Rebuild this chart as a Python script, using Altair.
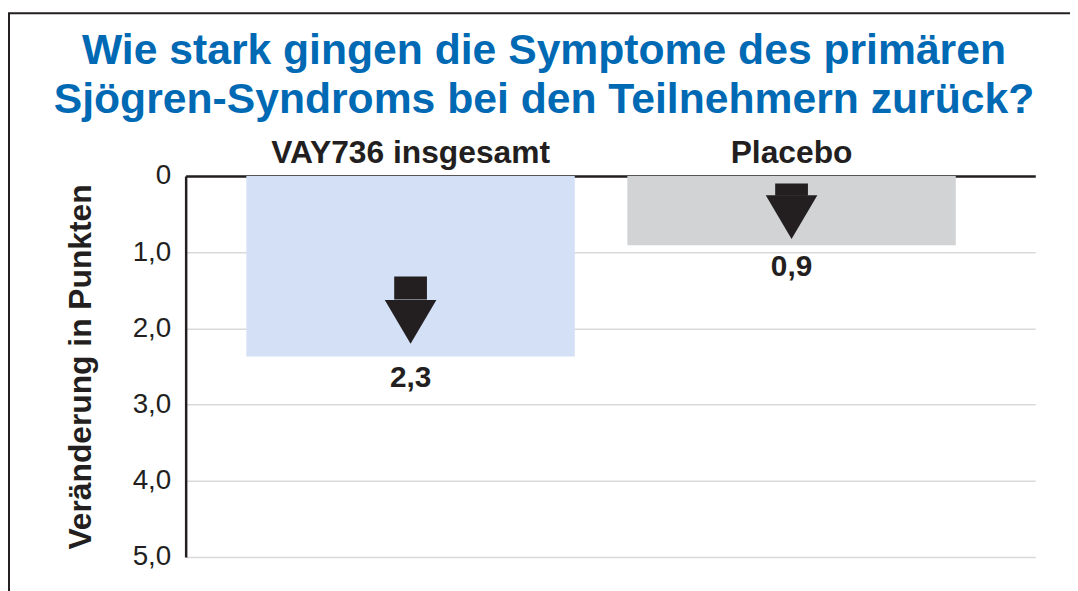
import altair as alt
import pandas as pd

# ---- data ----
groups = ["VAY736 insgesamt", "Placebo"]
changes = [2.37, 0.91]            # bar length (points of change)
value_labels = ["2,3", "0,9"]     # printed values
arrow_top = [1.32, 0.10]
head_top = [1.62, 0.26]
arrow_tip = [2.21, 0.82]
bar_colors = ["#D3E0F5", "#D1D3D4"]
y_ticks = [0, 1, 2, 3, 4, 5]

title_lines = ["Wie stark gingen die Symptome des primären",
               "Sjögren-Syndroms bei den Teilnehmern zurück?"]
y_title = "Veränderung in Punkten"

INK = "#231F20"
BLUE = "#0069B4"
FONT = "Liberation Sans"

df = pd.DataFrame({
    "group": groups,
    "change": changes,
    "label": value_labels,
    "arrow_top": arrow_top,
    "head_top": head_top,
    "arrow_tip": arrow_tip,
    "color": bar_colors,
})
df["head_mid"] = (df["head_top"] + df["arrow_tip"]) / 2

x_scale = alt.Scale(paddingInner=0.138, paddingOuter=0.184, align=0.433)
x_axis = alt.Axis(orient="top", labelAngle=0, labelFont=FONT, labelFontSize=32,
                  labelFontWeight="bold", labelColor=INK, labelPadding=14,
                  labelBaseline="alphabetic", labelLimit=0,
                  domainColor=INK, domainWidth=2.5,
                  ticks=False, grid=False, title=None)


def X():
    return alt.X("group:N", sort=groups, scale=x_scale, axis=x_axis)


y_scale = alt.Scale(domain=[0, 5], reverse=True, nice=False, zero=True)
y_axis = alt.Axis(values=y_ticks,
                  labelExpr="datum.value == 0 ? '0' : replace(format(datum.value, '.1f'), '.', ',')",
                  labelFont=FONT, labelFontSize=28, labelColor=INK,
                  labelPadding=15, ticks=False,
                  domainColor=INK, domainWidth=2.5,
                  grid=True, gridColor="#D9D9D9", gridWidth=1.5,
                  title=y_title, titleFont=FONT, titleFontSize=32,
                  titleFontWeight="bold", titleColor=INK,
                  titleAngle=-90, titleX=-96, titleY=192,
                  titleAlign="center", titleBaseline="alphabetic")


def Y(field):
    return alt.Y(field, scale=y_scale, axis=y_axis, title=y_title)


bars = alt.Chart(df).mark_bar().encode(
    x=X(),
    y=Y("change:Q"),
    color=alt.Color("color:N", scale=None),
)

shafts = alt.Chart(df).mark_bar(width=33, color=INK).encode(
    x=X(),
    y=Y("arrow_top:Q"),
    y2="head_top:Q",
)

heads = alt.Chart(df).mark_point(
    shape="M-1,-0.85L1,-0.85L0,0.85Z", filled=True, size=2704,
    color=INK, opacity=1, strokeWidth=0,
).encode(
    x=X(),
    y=Y("head_mid:Q"),
)

labels = alt.Chart(df).mark_text(
    font=FONT, fontSize=30, fontWeight="bold", color=INK,
    baseline="alphabetic", dy=31,
).encode(
    x=X(),
    y=Y("change:Q"),
    text="label:N",
)

frame_df = pd.DataFrame({"k": [0]})
frame_left = alt.Chart(frame_df).mark_rule(color=INK, strokeWidth=2).encode(
    x=alt.value(-178), y=alt.value(-164), y2=alt.value(430))
frame_top = alt.Chart(frame_df).mark_rule(color=INK, strokeWidth=2).encode(
    x=alt.value(-179), x2=alt.value(900), y=alt.value(-164))

chart = alt.layer(bars, shafts, heads, labels, frame_left, frame_top).properties(
    width=856, height=384,
    autosize=alt.AutoSizeParams(type="none"),
    padding={"left": 179, "top": 167, "right": 35, "bottom": 32},
    title=alt.TitleParams(title_lines, font=FONT, fontSize=43, fontWeight="bold",
                          color=BLUE, lineHeight=50, anchor="middle", dx=-67,
                          dy=115),
).configure_view(stroke=None)

chart.save("out.html", embed_options={"renderer": "svg", "actions": False})
